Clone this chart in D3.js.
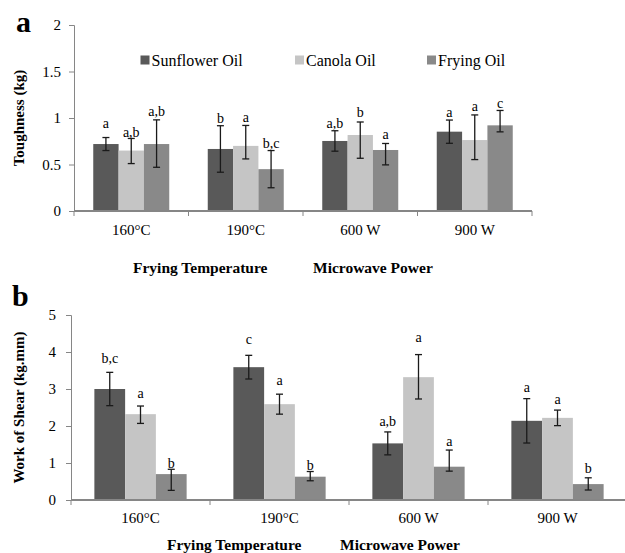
<!DOCTYPE html>
<html>
<head>
<meta charset="utf-8">
<script src="https://cdn.jsdelivr.net/npm/d3@7"></script>
<style>
  html, body { margin: 0; padding: 0; background: #fff; }
  svg { display: block; }
  svg text { font-family: "Liberation Serif", "Times New Roman", serif !important; fill: #000; }
</style>
</head>
<body>
<svg id="chart" width="625" height="553" font-family="Liberation Serif"></svg>
<script>
// ---------- data ----------
const categories = ["160°C", "190°C", "600 W", "900 W"];
const seriesNames = ["Sunflower Oil", "Canola Oil", "Frying Oil"];
const seriesColors = ["#595959", "#c5c5c5", "#898989"];

// Panel a: Toughness (kg)
const toughSunflower = [0.72, 0.667, 0.753, 0.853];
const toughCanola    = [0.65, 0.70, 0.817, 0.763];
const toughFrying    = [0.72, 0.45, 0.656, 0.921];
const toughErrPlusSunflower  = [0.07, 0.25, 0.11, 0.125];
const toughErrMinusSunflower = [0.07, 0.25, 0.11, 0.125];
const toughErrPlusCanola     = [0.13, 0.22, 0.14, 0.27];
const toughErrMinusCanola    = [0.14, 0.14, 0.25, 0.21];
const toughErrPlusFrying     = [0.26, 0.20, 0.07, 0.16];
const toughErrMinusFrying    = [0.25, 0.20, 0.16, 0.07];
const toughLetterSunflower = ["a", "b", "a,b", "a"];
const toughLetterCanola    = ["a,b", "a", "b", "a"];
const toughLetterFrying    = ["a,b", "b,c", "a", "c"];
const toughLetterAtSunflower = [0.946, 0.997, 0.943, 1.061];
const toughLetterAtCanola    = [0.853, 1.010, 1.068, 1.125];
const toughLetterAtFrying    = [1.075, 0.734, 0.824, 1.165];
const toughTicks = [0, 0.5, 1, 1.5, 2];

// Panel b: Work of Shear (kg.mm)
const shearSunflower = [3.0, 3.59, 1.53, 2.14];
const shearCanola    = [2.32, 2.59, 3.32, 2.22];
const shearFrying    = [0.70, 0.63, 0.90, 0.43];
const shearErrPlusSunflower  = [0.45, 0.32, 0.31, 0.60];
const shearErrMinusSunflower = [0.45, 0.32, 0.31, 0.60];
const shearErrPlusCanola     = [0.22, 0.27, 0.61, 0.21];
const shearErrMinusCanola    = [0.25, 0.27, 0.59, 0.21];
const shearErrPlusFrying     = [0.13, 0.14, 0.45, 0.17];
const shearErrMinusFrying    = [0.44, 0.11, 0.12, 0.16];
const shearLetterSunflower = ["b,c", "c", "a,b", "a"];
const shearLetterCanola    = ["a", "a", "a", "a"];
const shearLetterFrying    = ["b", "b", "a", "b"];
const shearLetterAtSunflower = [3.83, 4.34, 2.12, 3.04];
const shearLetterAtCanola    = [2.90, 3.24, 4.40, 2.72];
const shearLetterAtFrying    = [0.99, 0.95, 1.60, 0.86];
const shearTicks = [0, 1, 2, 3, 4, 5];

const groupTitles = ["Frying Temperature", "Microwave Power"];

// ---------- drawing ----------
const svg = d3.select("#chart");
const axisColor = "#868686";
const FONT = "'Liberation Serif', 'Times New Roman', serif";

function drawPanel(cfg) {
  const g = svg.append("g");
  const x = d3.scaleBand().domain(categories).range([cfg.x0, cfg.x1]).padding(0);
  const xs = d3.scaleBand().domain(seriesNames).range([0, x.bandwidth()])
    .paddingInner(0).paddingOuter(0.76);
  const y = d3.scaleLinear().domain([0, cfg.ymax]).range([cfg.yBottom, cfg.yTop]);

  const rows = [];
  seriesNames.forEach((s, si) => {
    categories.forEach((c, ci) => {
      rows.push({
        s, si, c,
        v: cfg.values[si][ci],
        ep: cfg.errPlus[si][ci],
        em: cfg.errMinus[si][ci],
        letter: cfg.letters[si][ci],
        letterAt: cfg.letterAt[si][ci]
      });
    });
  });

  // bars
  g.selectAll("rect.bar").data(rows).join("rect")
    .attr("class", "bar")
    .attr("x", d => x(d.c) + xs(d.s))
    .attr("width", xs.bandwidth())
    .attr("y", d => y(d.v))
    .attr("height", d => y(0) - y(d.v))
    .attr("fill", d => seriesColors[d.si]);

  // y axis
  const yAxis = d3.axisLeft(y).tickValues(cfg.ticks).tickSize(5).tickPadding(cfg.yTickPad)
    .tickFormat(d3.format("~g"));
  const ya = g.append("g").attr("transform", `translate(${cfg.x0},0)`).call(yAxis)
    .attr("font-family", null).attr("font-size", null);
  ya.select(".domain").attr("stroke", axisColor).attr("stroke-width", 1);
  ya.selectAll(".tick line").attr("stroke", axisColor);
  ya.selectAll(".tick text").style("font-size", "15px").style("font-family", FONT).attr("fill", "#000");

  // x axis line with ticks at band boundaries
  const bounds = categories.map(c => x(c)).concat([cfg.x1]);
  g.append("line").attr("x1", cfg.x0).attr("x2", cfg.x1)
    .attr("y1", y(0)).attr("y2", y(0))
    .attr("stroke", axisColor).attr("stroke-width", 2);
  g.selectAll("line.xt").data(bounds).join("line").attr("class", "xt")
    .attr("x1", d => d).attr("x2", d => d)
    .attr("y1", y(0)).attr("y2", y(0) + 5)
    .attr("stroke", axisColor);
  g.selectAll("text.xl").data(categories).join("text").attr("class", "xl")
    .attr("x", d => x(d) + x.bandwidth() / 2)
    .attr("y", cfg.xLabelY)
    .attr("text-anchor", "middle")
    .style("font-size", "15px").style("font-family", FONT)
    .text(d => d);

  // error bars
  const cap = 3.5;
  const eb = g.selectAll("g.err").data(rows).join("g").attr("class", "err")
    .attr("stroke", "#1a1a1a").attr("stroke-width", 1.3);
  eb.append("line")
    .attr("x1", d => x(d.c) + xs(d.s) + xs.bandwidth() / 2)
    .attr("x2", d => x(d.c) + xs(d.s) + xs.bandwidth() / 2)
    .attr("y1", d => y(d.v + d.ep)).attr("y2", d => y(d.v - d.em));
  eb.append("line")
    .attr("x1", d => x(d.c) + xs(d.s) + xs.bandwidth() / 2 - cap)
    .attr("x2", d => x(d.c) + xs(d.s) + xs.bandwidth() / 2 + cap)
    .attr("y1", d => y(d.v + d.ep)).attr("y2", d => y(d.v + d.ep));
  eb.append("line")
    .attr("x1", d => x(d.c) + xs(d.s) + xs.bandwidth() / 2 - cap)
    .attr("x2", d => x(d.c) + xs(d.s) + xs.bandwidth() / 2 + cap)
    .attr("y1", d => y(d.v - d.em)).attr("y2", d => y(d.v - d.em));

  // significance letters
  g.selectAll("text.letter").data(rows).join("text").attr("class", "letter")
    .attr("x", d => x(d.c) + xs(d.s) + xs.bandwidth() / 2)
    .attr("y", d => y(d.letterAt))
    .attr("dy", "0.35em")
    .attr("text-anchor", "middle")
    .style("font-size", "14px").style("font-family", FONT)
    .text(d => d.letter);

  // axis title
  g.append("text")
    .attr("transform", `translate(${cfg.yTitleX},${(y(0) + y(cfg.ymax)) / 2}) rotate(-90)`)
    .attr("text-anchor", "middle")
    .style("font-weight", "bold").style("font-size", "15px").style("font-family", FONT)
    .text(cfg.yTitle);

  // group titles
  g.selectAll("text.gt").data(groupTitles).join("text").attr("class", "gt")
    .attr("x", (d, i) => cfg.groupTitleX[i])
    .attr("y", cfg.groupTitleY)
    .style("font-weight", "bold").style("font-size", "15.5px").style("font-family", FONT)
    .text(d => d);

  // panel letter
  g.append("text").attr("x", cfg.panelX).attr("y", cfg.panelY)
    .style("font-weight", "bold").style("font-size", "30px").style("font-family", FONT)
    .text(cfg.panel);

  return { x, y };
}

drawPanel({
  panel: "a", panelX: 16, panelY: 32,
  x0: 74, x1: 532, yTop: 25, yBottom: 211, ymax: 2,
  ticks: toughTicks, yTickPad: 8,
  values: [toughSunflower, toughCanola, toughFrying],
  errPlus: [toughErrPlusSunflower, toughErrPlusCanola, toughErrPlusFrying],
  errMinus: [toughErrMinusSunflower, toughErrMinusCanola, toughErrMinusFrying],
  letters: [toughLetterSunflower, toughLetterCanola, toughLetterFrying],
  letterAt: [toughLetterAtSunflower, toughLetterAtCanola, toughLetterAtFrying],
  xLabelY: 235, yTitle: "Toughness (kg)", yTitleX: 24,
  groupTitleX: [133, 313], groupTitleY: 273
});

drawPanel({
  panel: "b", panelX: 12, panelY: 306,
  x0: 71, x1: 627, yTop: 315, yBottom: 500, ymax: 5,
  ticks: shearTicks, yTickPad: 10,
  values: [shearSunflower, shearCanola, shearFrying],
  errPlus: [shearErrPlusSunflower, shearErrPlusCanola, shearErrPlusFrying],
  errMinus: [shearErrMinusSunflower, shearErrMinusCanola, shearErrMinusFrying],
  letters: [shearLetterSunflower, shearLetterCanola, shearLetterFrying],
  letterAt: [shearLetterAtSunflower, shearLetterAtCanola, shearLetterAtFrying],
  xLabelY: 523, yTitle: "Work of Shear (kg.mm)", yTitleX: 24,
  groupTitleX: [167, 340], groupTitleY: 550
});

// legend (panel a)
const legendX = [140.5, 295, 427];
const lg = svg.append("g");
const li = lg.selectAll("g").data(seriesNames).join("g")
  .attr("transform", (d, i) => `translate(${legendX[i]},60)`);
li.append("rect").attr("x", 0).attr("y", -4.5).attr("width", 9).attr("height", 9)
  .attr("fill", (d, i) => seriesColors[i]);
li.append("text").attr("x", 11).attr("y", 0).attr("dy", "0.35em")
  .style("font-size", "16px").style("font-family", FONT).text(d => d);
</script>
</body>
</html>
